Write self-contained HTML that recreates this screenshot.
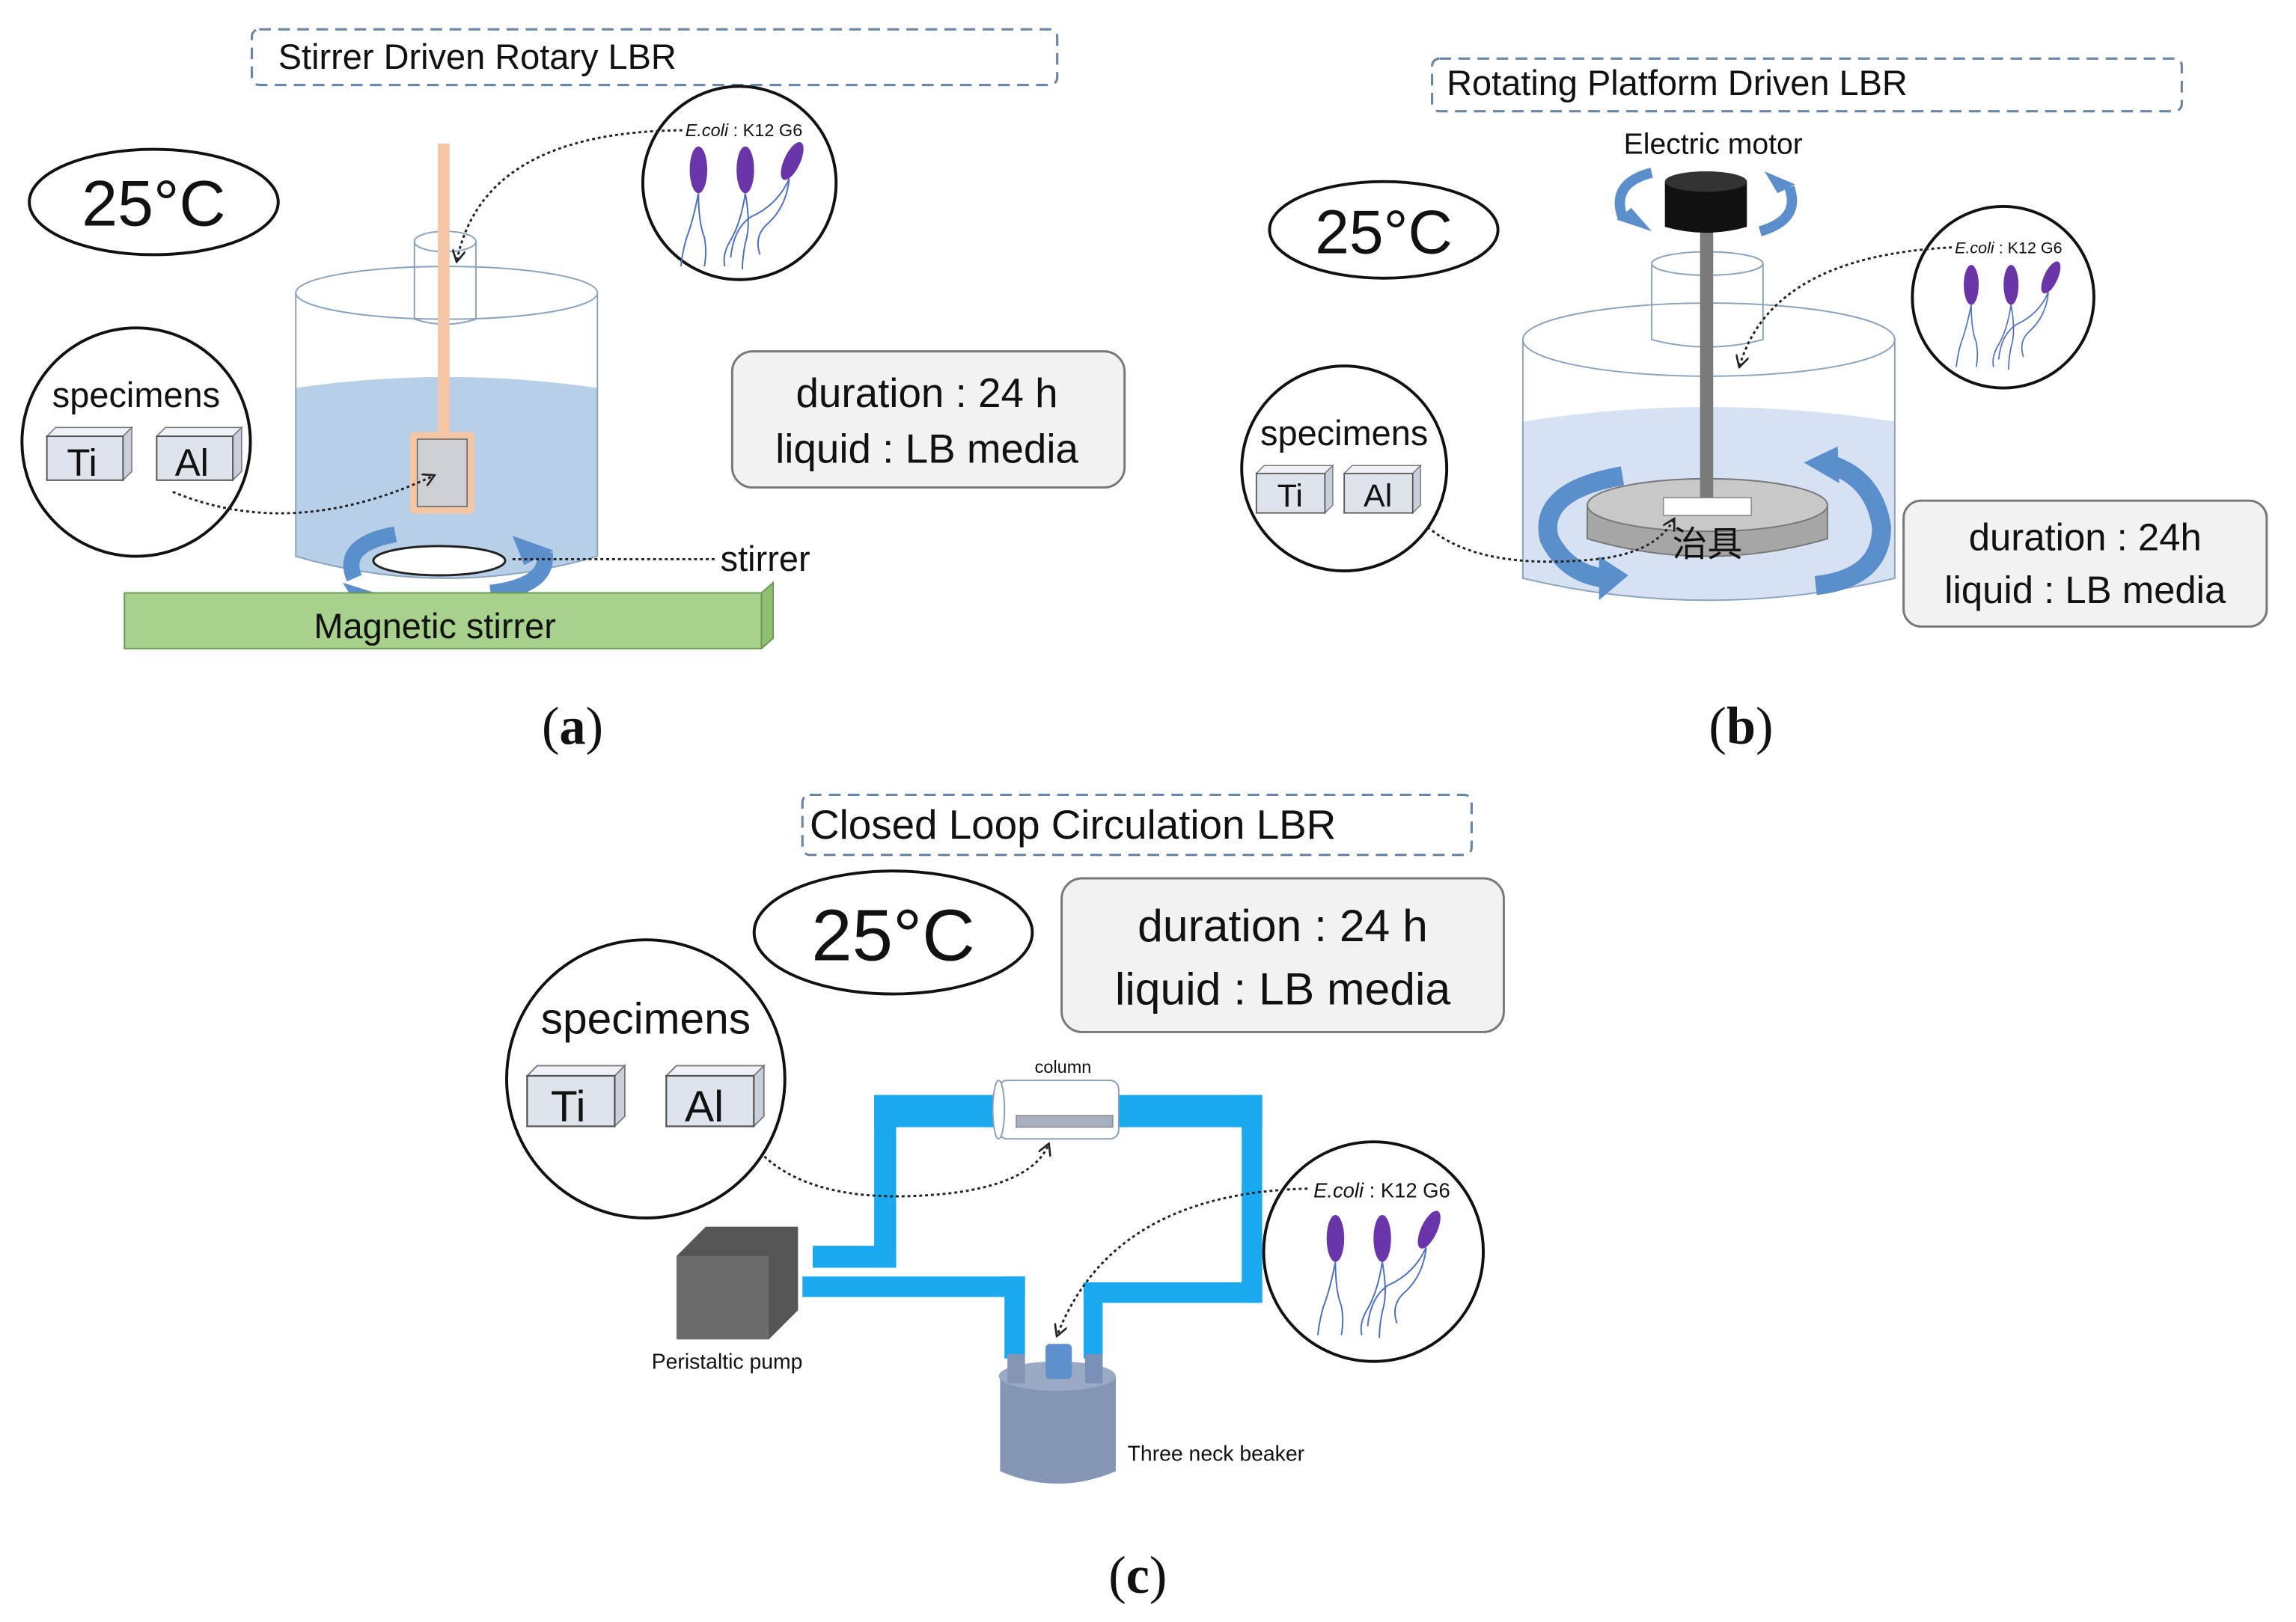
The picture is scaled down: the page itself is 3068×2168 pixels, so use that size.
<!DOCTYPE html>
<html><head><meta charset="utf-8"><style>
html,body{margin:0;padding:0;background:#fff}
svg{display:block}
text{font-family:"Liberation Sans","Noto Sans CJK SC",sans-serif;fill:#111}
.serif{font-family:"Liberation Serif",serif}
</style></head><body>
<svg width="3068" height="2168" viewBox="0 0 1568 1108" xmlns="http://www.w3.org/2000/svg">
<defs>
<marker id="ah" viewBox="0 0 10 10" refX="8" refY="5" markerWidth="6" markerHeight="6" orient="auto"><path d="M0,0 L9,5 L0,10" fill="none" stroke="#222" stroke-width="1.5"/></marker>
<g id="bact">
<path d="M-28,-8 q-4,20 -8,30 q-3,10 -4,20 M-28,-8 q0,20 4,30 q2,10 0,20 M4,-8 q-3,20 -10,32 q-6,10 -4,18 M4,-8 q4,22 0,34 q-2,10 -2,18 M34,-18 q-8,18 -26,26 q-12,8 -14,28 M34,-18 q-2,20 -16,32 q-8,8 -4,20" fill="none" stroke="#4a6fc4" stroke-width="1"/>
<ellipse cx="-28" cy="-24" rx="6" ry="16" fill="#6a35a8"/>
<ellipse cx="4" cy="-24" rx="6" ry="16" fill="#6a35a8"/>
<ellipse cx="36" cy="-30" rx="5.5" ry="14" fill="#6a35a8" transform="rotate(25 36 -30)"/>
</g>
<g id="cube">
<path d="M0,6 L6,0 L58,0 L52,6 Z" fill="#eef1f8" stroke="#777" stroke-width="0.8"/>
<path d="M52,6 L58,0 L58,30 L52,36 Z" fill="#c9cfdb" stroke="#777" stroke-width="0.8"/>
<rect x="0" y="6" width="52" height="30" fill="#dfe3ec" stroke="#555" stroke-width="1"/>
</g>
</defs>

<!-- ============ PANEL A ============ -->
<rect x="172" y="20" width="550" height="38" rx="5" fill="none" stroke="#6a86a3" stroke-width="1.6" stroke-dasharray="8,5"/>
<text x="190" y="47" font-size="24">Stirrer Driven Rotary LBR</text>

<ellipse cx="105" cy="138" rx="85" ry="36" fill="#fff" stroke="#111" stroke-width="2"/>
<text x="105" y="154" font-size="44" text-anchor="middle">25°C</text>

<path d="M202,265 Q305,250 408,265 L408,380 Q305,410 202,380 Z" fill="#b8cfe8"/>
<path d="M202,200 L202,380 Q305,410 408,380 L408,200" fill="none" stroke="#8aa2bc" stroke-width="1"/>
<ellipse cx="305" cy="200" rx="103" ry="18" fill="none" stroke="#8aa2bc" stroke-width="1"/>
<path d="M283,165 L283,218 Q304,225 325,218 L325,165" fill="none" stroke="#8aa2bc" stroke-width="1"/>
<ellipse cx="304" cy="165" rx="21" ry="7" fill="none" stroke="#8aa2bc" stroke-width="1"/>
<rect x="299" y="98" width="8" height="200" fill="#f5c6a6"/>
<rect x="280" y="295" width="44" height="56" rx="3" fill="#f5c6a6"/>
<rect x="285" y="300" width="34" height="46" fill="#cfcfd6" stroke="#666" stroke-width="0.8"/>
<ellipse cx="300" cy="383" rx="45" ry="10" fill="#fff" stroke="#222" stroke-width="1.5"/>
<path d="M270,365 Q232,372 242,395" fill="none" stroke="#5b8fcc" stroke-width="11"/>
<path d="M234,398 L266,408 L244,414 Z" fill="#5b8fcc"/>
<path d="M335,405 Q375,400 372,378" fill="none" stroke="#5b8fcc" stroke-width="11"/>
<path d="M378,376 L350,366 L358,386 Z" fill="#5b8fcc"/>
<path d="M85,405 L520,405 L528,398 L528,436 L520,443 Z" fill="#8fbf6f" stroke="#6a9a50" stroke-width="1"/>
<rect x="85" y="405" width="435" height="38" fill="#a9d18e" stroke="#6a9a50" stroke-width="1"/>
<text x="297" y="436" font-size="24" text-anchor="middle">Magnetic stirrer</text>
<line x1="350" y1="382" x2="488" y2="382" stroke="#222" stroke-width="1.5" stroke-dasharray="2,2"/>
<text x="492" y="390" font-size="24">stirrer</text>

<circle cx="505" cy="125" r="66" fill="#fff" stroke="#111" stroke-width="2"/>
<text x="468" y="93" font-size="12"><tspan font-style="italic">E.coli</tspan> : K12 G6</text>
<use href="#bact" x="505" y="140"/>
<path d="M466,89 Q330,90 312,178" fill="none" stroke="#222" stroke-width="1.5" stroke-dasharray="2,2" marker-end="url(#ah)"/>

<circle cx="93" cy="302" r="78" fill="#fff" stroke="#111" stroke-width="2"/>
<text x="93" y="278" font-size="24" text-anchor="middle">specimens</text>
<use href="#cube" x="32" y="292"/>
<text x="56" y="325" font-size="26" text-anchor="middle">Ti</text>
<use href="#cube" x="107" y="292"/>
<text x="131" y="325" font-size="26" text-anchor="middle">Al</text>
<path d="M118,336 Q200,370 296,325" fill="none" stroke="#222" stroke-width="1.5" stroke-dasharray="2,2" marker-end="url(#ah)"/>

<rect x="500" y="240" width="268" height="93" rx="14" fill="#f2f2f2" stroke="#777" stroke-width="1.5"/>
<text x="633" y="278" font-size="28" text-anchor="middle">duration : 24 h</text>
<text x="633" y="316" font-size="28" text-anchor="middle">liquid : LB media</text>

<text x="391" y="508" font-size="36" text-anchor="middle" class="serif">(<tspan font-weight="bold">a</tspan>)</text>

<!-- ============ PANEL B ============ -->
<rect x="978" y="40" width="512" height="36" rx="5" fill="none" stroke="#6a86a3" stroke-width="1.6" stroke-dasharray="8,5"/>
<text x="988" y="65" font-size="24">Rotating Platform Driven LBR</text>
<text x="1170" y="105" font-size="20" text-anchor="middle">Electric motor</text>

<ellipse cx="945" cy="157" rx="78" ry="33" fill="#fff" stroke="#111" stroke-width="2"/>
<text x="945" y="173" font-size="42" text-anchor="middle">25°C</text>

<path d="M1040,288 Q1166,268 1294,288 L1294,395 Q1166,425 1040,395 Z" fill="#d6e2f4"/>
<path d="M1040,232 L1040,395 Q1166,425 1294,395 L1294,232" fill="none" stroke="#8aa2bc" stroke-width="1"/>
<ellipse cx="1167" cy="232" rx="127" ry="25" fill="none" stroke="#8aa2bc" stroke-width="1"/>
<path d="M1128,180 L1128,232 Q1166,242 1204,232 L1204,180" fill="none" stroke="#8aa2bc" stroke-width="1"/>
<ellipse cx="1166" cy="180" rx="38" ry="8" fill="none" stroke="#8aa2bc" stroke-width="1"/>
<path d="M1084,345 L1084,368 Q1166,392 1248,368 L1248,345" fill="#a6a6a6" stroke="#777" stroke-width="1"/>
<ellipse cx="1166" cy="345" rx="82" ry="18" fill="#c8c8c8" stroke="#777" stroke-width="1"/>
<rect x="1161" y="150" width="9" height="195" fill="#7a7a7a"/>
<rect x="1136" y="340" width="60" height="12" fill="#fff" stroke="#888" stroke-width="0.8"/>
<text x="1166" y="380" font-size="24" text-anchor="middle">治具</text>
<path d="M1137,124 L1137,155 Q1165,163 1193,155 L1193,124 Z" fill="#111"/>
<ellipse cx="1165" cy="124" rx="28" ry="7" fill="#333"/>
<path d="M1128,118 Q1100,125 1108,148" fill="none" stroke="#5b8fcc" stroke-width="7"/>
<path d="M1104,150 L1128,158 L1114,142 Z" fill="#5b8fcc"/>
<path d="M1202,158 Q1230,150 1222,128" fill="none" stroke="#5b8fcc" stroke-width="7"/>
<path d="M1226,126 L1205,117 L1214,132 Z" fill="#5b8fcc"/>
<path d="M1108,325 Q1050,335 1058,368 Q1070,392 1096,395" fill="none" stroke="#5b8fcc" stroke-width="13"/>
<path d="M1092,380 L1112,393 L1092,410 Z" fill="#5b8fcc"/>
<path d="M1240,400 Q1285,395 1285,360 Q1280,328 1252,318" fill="none" stroke="#5b8fcc" stroke-width="13"/>
<path d="M1255,305 L1232,316 L1256,330 Z" fill="#5b8fcc"/>

<circle cx="1368" cy="203" r="62" fill="#fff" stroke="#111" stroke-width="2"/>
<text x="1335" y="173" font-size="11"><tspan font-style="italic">E.coli</tspan> : K12 G6</text>
<use href="#bact" transform="translate(1370 215) scale(0.85)"/>
<path d="M1333,169 Q1210,175 1188,250" fill="none" stroke="#222" stroke-width="1.5" stroke-dasharray="2,2" marker-end="url(#ah)"/>

<circle cx="918" cy="320" r="70" fill="#fff" stroke="#111" stroke-width="2"/>
<text x="918" y="304" font-size="24" text-anchor="middle">specimens</text>
<use href="#cube" transform="translate(858 318) scale(0.9)"/>
<text x="881" y="346" font-size="22" text-anchor="middle">Ti</text>
<use href="#cube" transform="translate(918 318) scale(0.9)"/>
<text x="941" y="346" font-size="22" text-anchor="middle">Al</text>
<path d="M975,360 Q1010,390 1090,382 Q1130,378 1143,355" fill="none" stroke="#222" stroke-width="1.5" stroke-dasharray="2,2" marker-end="url(#ah)"/>

<rect x="1300" y="342" width="248" height="86" rx="12" fill="#f2f2f2" stroke="#777" stroke-width="1.5"/>
<text x="1424" y="376" font-size="26" text-anchor="middle">duration : 24h</text>
<text x="1424" y="412" font-size="26" text-anchor="middle">liquid : LB media</text>

<text x="1189" y="508" font-size="36" text-anchor="middle" class="serif">(<tspan font-weight="bold">b</tspan>)</text>

<!-- ============ PANEL C ============ -->
<rect x="548" y="543" width="457" height="41" rx="5" fill="none" stroke="#6a86a3" stroke-width="1.6" stroke-dasharray="8,5"/>
<text x="553" y="573" font-size="28">Closed Loop Circulation LBR</text>

<ellipse cx="610" cy="637" rx="95" ry="42" fill="#fff" stroke="#111" stroke-width="2"/>
<text x="610" y="656" font-size="50" text-anchor="middle">25°C</text>

<rect x="725" y="600" width="302" height="105" rx="14" fill="#f2f2f2" stroke="#777" stroke-width="1.5"/>
<text x="876" y="643" font-size="31" text-anchor="middle">duration : 24 h</text>
<text x="876" y="686" font-size="31" text-anchor="middle">liquid : LB media</text>

<g fill="#1aa8ee">
<rect x="555" y="851" width="57" height="15"/>
<rect x="597" y="748" width="15" height="118"/>
<rect x="597" y="748" width="90" height="22"/>
<rect x="760" y="748" width="102" height="22"/>
<rect x="848" y="748" width="14" height="142"/>
<rect x="740" y="876" width="122" height="14"/>
<rect x="740" y="876" width="13" height="52"/>
<rect x="548" y="872" width="152" height="14"/>
<rect x="686" y="872" width="14" height="56"/>
</g>
<rect x="682" y="738" width="82" height="40" rx="6" fill="#fff" stroke="#8aa0b8" stroke-width="1"/>
<ellipse cx="682" cy="758" rx="4" ry="20" fill="#fff" stroke="#8aa0b8" stroke-width="1"/>
<rect x="694" y="762" width="66" height="8" fill="#a7b0be" stroke="#777" stroke-width="0.6"/>
<text x="726" y="733" font-size="12" text-anchor="middle">column</text>
<path d="M462,858 L482,838 L545,838 L545,895 L525,915 Z" fill="#555"/>
<rect x="462" y="858" width="63" height="57" fill="#6c6c6c"/>
<text x="445" y="935" font-size="14.5">Peristaltic pump</text>
<path d="M683,940 L683,1005 Q722,1022 762,1005 L762,940 Z" fill="#8496b4"/>
<ellipse cx="722" cy="940" rx="40" ry="10" fill="#9aaac4"/>
<rect x="688" y="925" width="12" height="20" fill="#8496b4"/>
<rect x="741" y="925" width="12" height="20" fill="#7b90b8"/>
<rect x="714" y="918" width="18" height="24" rx="3" fill="#5d90cc"/>
<text x="770" y="998" font-size="14.5">Three neck beaker</text>

<circle cx="938" cy="855" r="75" fill="#fff" stroke="#111" stroke-width="2"/>
<text x="897" y="818" font-size="14"><tspan font-style="italic">E.coli</tspan> : K12 G6</text>
<use href="#bact" x="940" y="870"/>
<path d="M893,812 Q760,815 722,912" fill="none" stroke="#222" stroke-width="1.5" stroke-dasharray="2,2" marker-end="url(#ah)"/>

<circle cx="441" cy="737" r="95" fill="#fff" stroke="#111" stroke-width="2"/>
<text x="441" y="706" font-size="30" text-anchor="middle">specimens</text>
<use href="#cube" transform="translate(360 728) scale(1.15)"/>
<text x="388" y="766" font-size="30" text-anchor="middle">Ti</text>
<use href="#cube" transform="translate(455 728) scale(1.15)"/>
<text x="481" y="766" font-size="30" text-anchor="middle">Al</text>
<path d="M522,790 Q560,825 650,815 Q705,808 716,782" fill="none" stroke="#222" stroke-width="1.5" stroke-dasharray="2,2" marker-end="url(#ah)"/>

<text x="777" y="1088" font-size="36" text-anchor="middle" class="serif">(<tspan font-weight="bold">c</tspan>)</text>
</svg>
</body></html>
